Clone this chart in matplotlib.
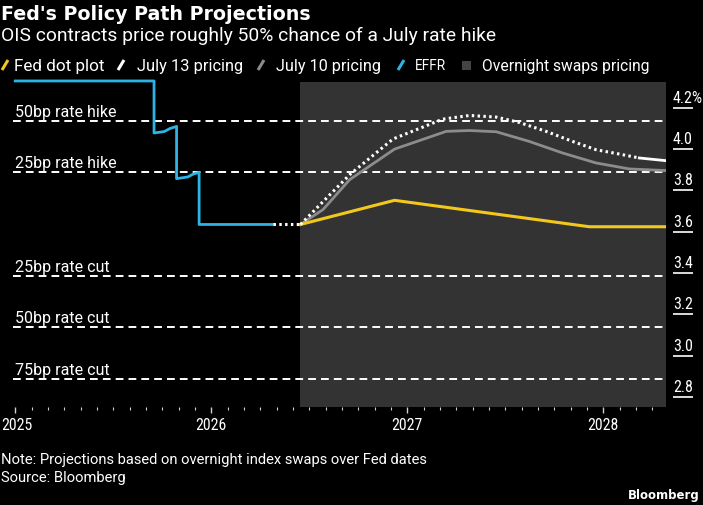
import matplotlib
matplotlib.use('Agg')
import matplotlib.pyplot as plt
from matplotlib import font_manager
from matplotlib.lines import Line2D
from matplotlib.patches import Rectangle
import matplotlib.transforms as mtransforms

# ---- data (x in fractional years) ----
effr_x = [2025.0, 2025.708, 2025.708, 2025.76, 2025.79, 2025.823, 2025.823,
          2025.88, 2025.91, 2025.938, 2025.938, 2026.315]
effr_y = [4.33, 4.33, 4.078, 4.085, 4.10, 4.11, 3.857,
          3.865, 3.88, 3.887, 3.635, 3.635]

link_x = [2026.315, 2026.455]          # white dotted bridge from EFFR to projections
link_y = [3.635, 3.635]

jul13_x = [2026.455, 2026.706, 2026.927, 2027.181, 2027.318, 2027.454, 2027.572,
           2027.708, 2027.844, 2027.963, 2028.082, 2028.184]
jul13_y = [3.635, 3.876, 4.049, 4.145, 4.163, 4.155, 4.129,
           4.086, 4.037, 3.997, 3.976, 3.957]
jul13_tail_x = [2028.184, 2028.320]
jul13_tail_y = [3.957, 3.944]

jul10_x = [2026.455, 2026.570, 2026.706, 2026.935, 2027.199, 2027.318, 2027.454,
           2027.623, 2027.793, 2027.963, 2028.133, 2028.320]
jul10_y = [3.635, 3.707, 3.852, 4.000, 4.086, 4.090, 4.084,
           4.037, 3.981, 3.933, 3.904, 3.896]

dot_x = [2026.455, 2026.935, 2027.929, 2028.320]
dot_y = [3.635, 3.752, 3.624, 3.624]

swaps_start, swaps_end = 2026.455, 2028.320

move_levels = [4.137, 3.887, 3.387, 3.137, 2.887]
move_labels = ['50bp rate hike', '25bp rate hike', '25bp rate cut',
               '50bp rate cut', '75bp rate cut']

y_ticks = [2.8, 3.0, 3.2, 3.4, 3.6, 3.8, 4.0, 4.2]
y_tick_labels = ['2.8', '3.0', '3.2', '3.4', '3.6', '3.8', '4.0', '4.2%']
x_years = [2025, 2026, 2027, 2028]

# ---- style ----
names = {f.name for f in font_manager.fontManager.ttflist}
base = 'Roboto' if 'Roboto' in names else 'DejaVu Sans'
narrow = 'Roboto Condensed' if 'Roboto Condensed' in names else base
plt.rcParams['font.family'] = [base, 'DejaVu Sans']

YELLOW = '#f2c81c'
BLUE = '#2cb4e6'
GREY_LINE = '#8c8c8c'
SWAP_BG = '#333333'
W, H = 703, 506

fig = plt.figure(figsize=(W / 100, H / 100), dpi=100, facecolor='black')
renderer = fig.canvas.get_renderer()


def fit(t, width_px):
    # scale a text's font size so that it spans width_px pixels
    w = t.get_window_extent(renderer).width
    t.set_fontsize(t.get_fontsize() * width_px / w)
    return t.get_fontsize()


def fit_size(s, width_px, **kw):
    t = fig.text(0, 0, s, fontsize=12, **kw)
    size = fit(t, width_px)
    t.remove()
    return size


def fx(px):
    return px / W


def fy(py):
    return 1 - py / H


LABEL = fit_size('50bp rate hike', 101)
TICK = fit_size('2025', 31, family=narrow)
TICK_R = fit_size('4.0', 20, family=narrow)

ax = fig.add_axes([13.3 / W, 1 - 408 / H, (666 - 13.3) / W, (408 - 83) / H])
ax.set_facecolor('black')
ax.set_xlim(2024.99, 2028.32)
ax.set_ylim(2.751, 4.325)

ax.axvspan(swaps_start, swaps_end, color=SWAP_BG, lw=0, zorder=0)

for lvl, lab in zip(move_levels, move_labels):
    ax.axhline(lvl, color='white', lw=1.4, ls=(0, (4, 2.6)), zorder=2)
    ax.annotate(lab, xy=(0.003, lvl), xycoords=('axes fraction', 'data'),
                xytext=(0, 5), textcoords='offset pixels',
                color='white', fontsize=LABEL, va='baseline', ha='left')

ax.plot(effr_x, effr_y, color=BLUE, lw=2, zorder=4, clip_on=False)
ax.plot(link_x, link_y, color='white', lw=2.2, ls=(0, (0.8, 1.1)), zorder=4)
ax.plot(jul10_x, jul10_y, color=GREY_LINE, lw=2, zorder=3)
ax.plot(dot_x, dot_y, color=YELLOW, lw=2.2, zorder=4)
ax.plot(jul13_x, jul13_y, color='white', lw=2.2, ls=(0, (0.8, 1.1)), zorder=5)
ax.plot(jul13_tail_x, jul13_tail_y, color='white', lw=2, zorder=5)

for s in ax.spines.values():
    s.set_visible(False)

# x axis
ax.set_xticks(x_years)
ax.set_xticklabels([str(y) for y in x_years], family=narrow)
ax.set_xticks([y + m / 12 for y in range(2025, 2029) for m in range(1, 12)
               if y + m / 12 < 2028.32], minor=True)
ax.tick_params(axis='x', which='major', length=4.5, width=1, color='#d0d0d0',
               labelcolor='white', labelsize=TICK, pad=3)
ax.tick_params(axis='x', which='minor', length=2.2, width=0.8, color='#d0d0d0')
# the first year label starts at the left edge of the picture
first = ax.get_xticklabels()[0]
first.set_horizontalalignment('left')
first.set_transform(first.get_transform() +
                    mtransforms.ScaledTranslation(-14.5 / 100, 0, fig.dpi_scale_trans))

# y axis on the right: underline-style ticks with labels sitting above
ax.yaxis.tick_right()
ax.spines['right'].set_position(('outward', 5))
ax.set_yticks(y_ticks)
ax.set_yticklabels([])
ax.tick_params(axis='y', which='major', length=14.5, width=1.2, color='white')
for v, lab in zip(y_ticks, y_tick_labels):
    ax.annotate(lab, xy=(1, v), xycoords=('axes fraction', 'data'),
                xytext=(7, 3), textcoords='offset pixels', family=narrow,
                color='white', fontsize=TICK_R, va='bottom', ha='left',
                annotation_clip=False)

# ---- titles ----
title = fig.text(fx(1), fy(14), "Fed's Policy Path Projections", color='white',
                 fontsize=16, fontweight='bold', family='DejaVu Sans',
                 va='center', ha='left')
fit(title, 310)
sub = fig.text(fx(1), fy(36), 'OIS contracts price roughly 50% chance of a July rate hike',
               color='white', fontsize=14, va='center', ha='left')
fit(sub, 496)

# ---- legend ----
leg_y = 66
items = [(YELLOW, 'Fed dot plot', 2, 14, 90),
         ('white', 'July 13 pricing', 118, 137, 105),
         (GREY_LINE, 'July 10 pricing', 258, 276, 104),
         (BLUE, 'EFFR', 398, 415, 31)]
for col, lab, ix, tx, tw in items:
    fig.add_artist(Line2D([fx(ix), fx(ix + 6)], [fy(leg_y + 5), fy(leg_y - 5)],
                          transform=fig.transFigure, color=col, lw=2.2,
                          solid_capstyle='butt'))
    t = fig.text(fx(tx), fy(leg_y), lab, color='white', fontsize=12,
                 va='center', ha='left')
    fit(t, tw)
fig.add_artist(Rectangle((fx(462), fy(leg_y + 4.5)), 9 / W, 9 / H,
                         transform=fig.transFigure, color='#444444', lw=0))
t = fig.text(fx(482), fy(leg_y), 'Overnight swaps pricing', color='white',
             fontsize=12, va='center', ha='left')
fit(t, 166)

# ---- footer ----
note = fig.text(fx(1), fy(460), 'Note: Projections based on overnight index swaps over Fed dates',
                color='white', fontsize=12, va='center', ha='left')
NOTE = fit(note, 427)
fig.text(fx(1), fy(478), 'Source: Bloomberg', color='white', fontsize=NOTE,
         va='center', ha='left')
brand = fig.text(fx(700), fy(496), 'Bloomberg', color='white', fontsize=12,
                 fontweight='bold', family='DejaVu Sans', va='center', ha='right')
fit(brand, 72)

fig.savefig('out.png', dpi=100, facecolor='black')
